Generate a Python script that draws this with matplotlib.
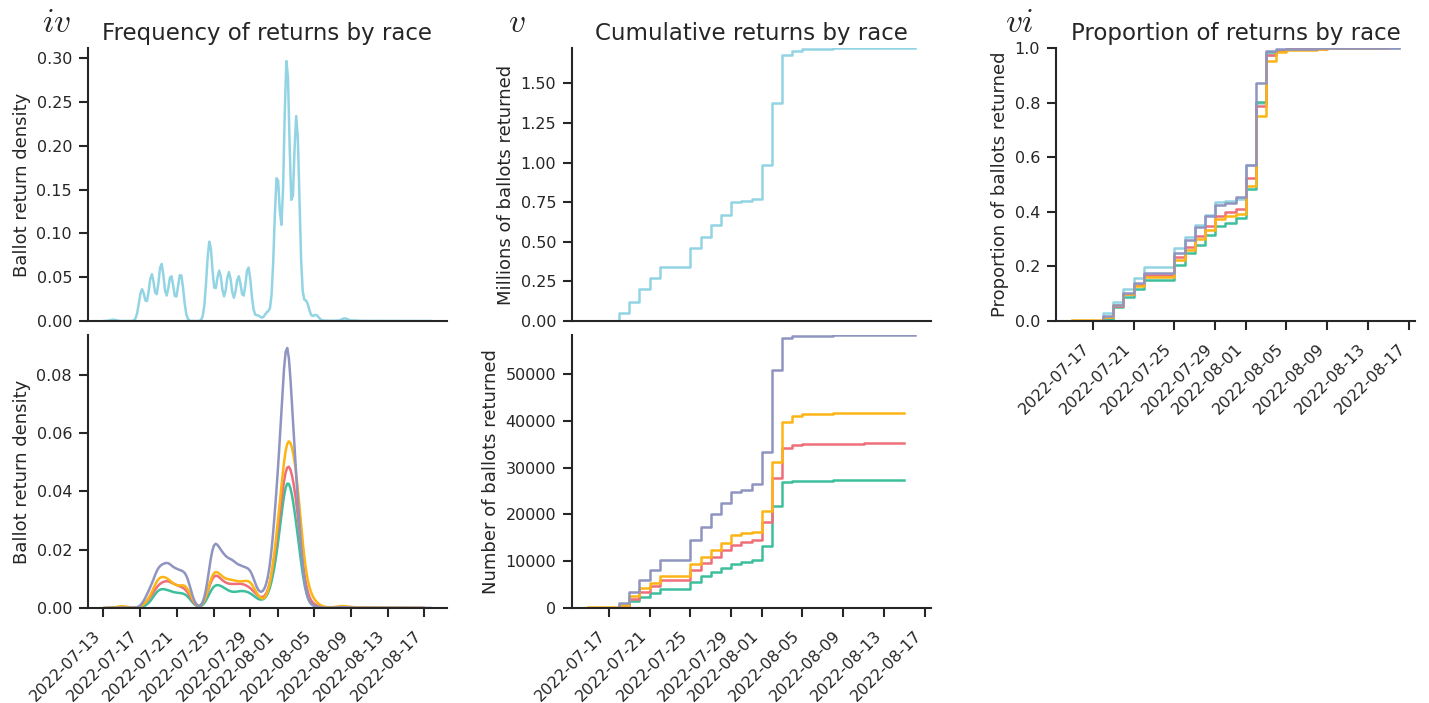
import numpy as np
import pandas as pd
import matplotlib
matplotlib.use("Agg")
import matplotlib.pyplot as plt
import matplotlib.dates as mdates

# ---------------------------------------------------------------------------
# Ballots returned per day (2022-07-15 .. 2022-08-16)
# ---------------------------------------------------------------------------
days = pd.date_range("2022-07-15", "2022-08-16", freq="D")

daily_blue = [2000, 0, 0, 47000, 69000, 85000, 67000, 70000, 0, 0,
              118000, 74000, 72000, 66000, 80000, 8000, 13000,
              216000, 388000, 303000, 29000, 9000, 500, 500, 4000, 800,
              300, 200, 200, 100, 100, 100, 100]
daily_purple = [30, 0, 0, 970, 2400, 2600, 2100, 2150, 0, 0,
                4200, 2950, 2700, 2300, 2300, 600, 1200,
                6800, 17600, 6900, 300, 100, 10, 10, 60, 20,
                10, 10, 10, 5, 5, 5, 5]
daily_orange = [150, 0, 0, 450, 1900, 1700, 1100, 1500, 0, 0,
                2500, 1600, 1600, 1400, 1700, 400, 350,
                4350, 10600, 8400, 1400, 350, 30, 20, 150, 40,
                20, 15, 10, 10, 5, 5, 0]
daily_red = [50, 0, 0, 450, 1400, 1600, 1200, 1200, 0, 0,
             2300, 1400, 1300, 1400, 1200, 500, 500,
             3900, 9300, 6600, 550, 150, 20, 15, 80, 25,
             15, 10, 10, 5, 5, 5, 0]
daily_green = [30, 0, 0, 170, 1200, 1000, 800, 900, 0, 0,
               1500, 1200, 800, 1000, 900, 350, 450,
               2900, 8700, 5000, 250, 70, 10, 10, 30, 10,
               5, 5, 5, 3, 3, 3, 0]

colors = {
    "blue": "#92D4E4",
    "purple": "#8F94C0",
    "orange": "#FDB515",
    "red": "#EE6F79",
    "green": "#3DBE9C",
}

# ---------------------------------------------------------------------------
# Style
# ---------------------------------------------------------------------------
ink = "#262626"
plt.rcParams.update({
    "font.family": "DejaVu Sans",
    "mathtext.fontset": "cm",
    "axes.edgecolor": ink,
    "axes.labelcolor": ink,
    "text.color": ink,
    "xtick.color": ink,
    "ytick.color": ink,
    "axes.linewidth": 1.5,
    "xtick.major.width": 1.5,
    "ytick.major.width": 1.5,
    "xtick.major.size": 6.5,
    "ytick.major.size": 6.5,
    "xtick.major.pad": 8.0,
    "ytick.major.pad": 5,
    "xtick.labelsize": 11.5,
    "ytick.labelsize": 11.5,
    "axes.labelsize": 13,
    "axes.titlesize": 16.5,
    "lines.linewidth": 1.8,
})

x_num = mdates.date2num(days.to_pydatetime())


def kde_curve(weights, gridsize=200, cut=3):
    """Gaussian KDE of the per-ballot return dates (Scott bandwidth)."""
    w = np.asarray(weights, dtype=float)
    n = w.sum()
    mean = np.average(x_num, weights=w)
    std = np.sqrt(np.average((x_num - mean) ** 2, weights=w))
    bw = std * n ** (-1 / 5)
    used = x_num[w > 0]
    grid = np.linspace(used.min() - cut * bw, used.max() + cut * bw, gridsize)
    z = (grid[:, None] - x_num[None, :]) / bw
    dens = (w[None, :] * np.exp(-0.5 * z ** 2)).sum(axis=1) / (n * bw * np.sqrt(2 * np.pi))
    return grid, dens


def cumulative(weights):
    w = np.asarray(weights, dtype=float)
    last = np.nonzero(w)[0].max()
    return x_num[: last + 1], np.cumsum(w)[: last + 1]


def style_axis(ax, show_x=True):
    ax.spines["top"].set_visible(False)
    ax.spines["right"].set_visible(False)
    if show_x:
        ax.xaxis.set_major_locator(mdates.DayLocator(bymonthday=range(1, 32, 4)))
        ax.xaxis.set_major_formatter(mdates.DateFormatter("%Y-%m-%d"))
        for lab in ax.get_xticklabels():
            lab.set_rotation(45)
            lab.set_ha("right")
    else:
        ax.tick_params(axis="x", bottom=False, labelbottom=False)


W, H = 1429, 703


def box(x0, x1, y0, y1):
    return [x0 / W, 1 - y1 / H, (x1 - x0) / W, (y1 - y0) / H]


fig = plt.figure(figsize=(W / 100, H / 100), dpi=100)
ax_kt = fig.add_axes(box(88, 447, 48, 321))
ax_kb = fig.add_axes(box(88, 447, 335, 608))
ax_ct = fig.add_axes(box(572, 931, 48, 321))
ax_cb = fig.add_axes(box(572, 931, 335, 608))
ax_pr = fig.add_axes(box(1056, 1415, 48, 321))

minor_groups = [("green", daily_green), ("red", daily_red),
                ("orange", daily_orange), ("purple", daily_purple)]
minor_total = sum(np.sum(v) for _, v in minor_groups)

# --- Frequency (KDE) --------------------------------------------------------
g, d = kde_curve(daily_blue)
ax_kt.plot(g, d, color=colors["blue"])
ax_kt.set_ylim(0, d.max() * 1.05)
ax_kt.xaxis_date()

top = 0
for name, vals in minor_groups:
    g, d = kde_curve(vals)
    d = d * np.sum(vals) / minor_total
    top = max(top, d.max())
    ax_kb.plot(g, d, color=colors[name])
ax_kb.set_ylim(0, top * 1.05)
ax_kb.xaxis_date()

ax_kt.set_ylabel("Ballot return density")
ax_kb.set_ylabel("Ballot return density")
ax_kt.set_title("Frequency of returns by race")

# --- Cumulative counts ------------------------------------------------------
cx, cy = cumulative(daily_blue)
ax_ct.step(cx, cy / 1e6, where="post", color=colors["blue"])
ax_ct.set_ylim(0, cy[-1] / 1e6)
ax_ct.xaxis_date()

top = 0
for name, vals in minor_groups:
    cx, cy = cumulative(vals)
    top = max(top, cy[-1])
    ax_cb.step(cx, cy, where="post", color=colors[name])
ax_cb.set_ylim(0, top)
ax_cb.xaxis_date()

ax_ct.set_ylabel("Millions of ballots returned")
ax_cb.set_ylabel("Number of ballots returned")
ax_ct.set_title("Cumulative returns by race")

# --- Proportion returned ----------------------------------------------------
for name, vals in [("blue", daily_blue)] + minor_groups:
    cx, cy = cumulative(vals)
    ax_pr.step(cx, cy / cy[-1], where="post", color=colors[name])
ax_pr.set_ylim(0, 1)
ax_pr.xaxis_date()
ax_pr.set_ylabel("Proportion of ballots returned")
ax_pr.set_title("Proportion of returns by race")

style_axis(ax_kt, show_x=False)
style_axis(ax_kb)
style_axis(ax_ct, show_x=False)
style_axis(ax_cb)
style_axis(ax_pr)

# Panel numerals
for x0, txt in [(42, r"$iv$"), (508, r"$v$"), (1005, r"$vi$")]:
    fig.text(x0 / W, 1 - 32.5 / H, txt, fontsize=24, ha="left", va="baseline")

fig.savefig("out.png", dpi=100)
